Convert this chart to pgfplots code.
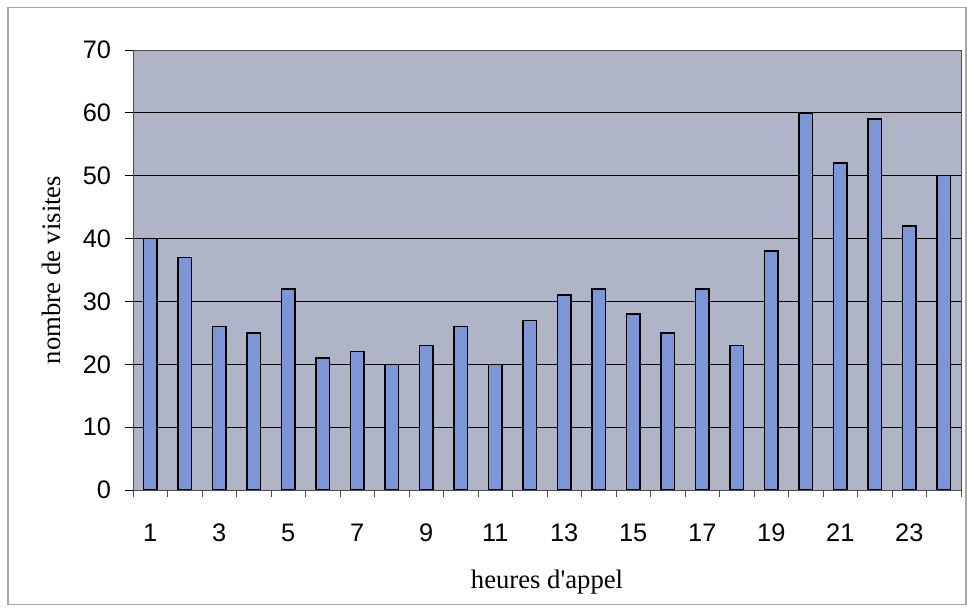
\documentclass[border=0pt]{standalone}
\usepackage{fontspec}
\setmainfont{Liberation Serif}
\newfontfamily\arialfont{Liberation Sans}
\usepackage{pgfplots}
\pgfplotsset{compat=1.18}
\definecolor{plotbg}{RGB}{176,180,199}
\definecolor{barblue}{RGB}{124,150,214}
\begin{document}
\begin{tikzpicture}
\path (-99.75pt,-92.25pt) rectangle (625.5pt,367.5pt);
\draw[black!35, line width=0.8pt] (-93.75pt,-86pt) rectangle (624.75pt,362pt);
\begin{axis}[
  at={(0pt,0pt)}, anchor=south west,
  scale only axis, width=621pt, height=330pt,
  xmin=0.5, xmax=24.5, ymin=0, ymax=70,
  axis background/.style={fill=plotbg},
  axis line style={black!70, line width=0.6pt},
  ytick={0,10,...,70},
  xtick={1,3,...,23},
  minor xtick={0.5,1.5,...,24.5},
  major x tick style={draw=none},
  minor x tick style={black!70, line width=0.5pt},
  minor tick length=5pt,
  y tick style={black, line width=0.6pt},
  major tick length=6pt,
  tick align=outside,
  xtick pos=bottom, ytick pos=left,
  ymajorgrids, grid style={black, line width=0.7pt},
  /pgf/number format/assume math mode=true,
  tick label style={font=\arialfont\fontsize{19}{22}\selectfont},
  xticklabel style={anchor=base, yshift=-33pt},
  yticklabel style={xshift=-7pt},
  xlabel={heures d\textquotesingle appel},
  ylabel={nombre de visites},
  label style={font=\fontsize{20}{23}\selectfont},
  xlabel style={yshift=-14pt},
  ylabel style={yshift=10pt},
]
\addplot[ybar, bar width=10pt, fill=barblue, draw=black, line width=1.1pt]
coordinates {
(1,40) (2,37) (3,26) (4,25) (5,32) (6,21) (7,22) (8,20)
(9,23) (10,26) (11,20) (12,27) (13,31) (14,32) (15,28) (16,25)
(17,32) (18,23) (19,38) (20,60) (21,52) (22,59) (23,42) (24,50)
};
\end{axis}
\end{tikzpicture}
\end{document}
